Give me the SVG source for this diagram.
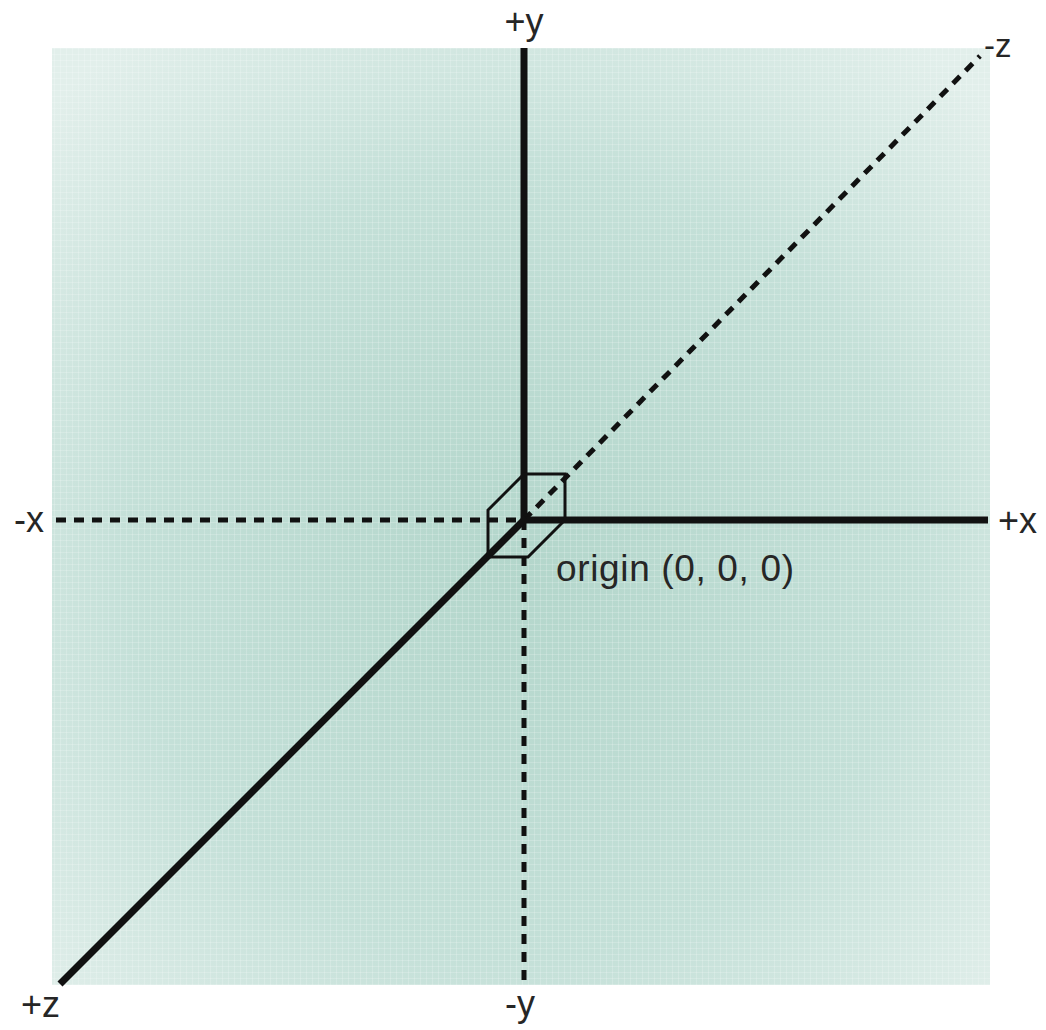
<svg xmlns="http://www.w3.org/2000/svg" width="1046" height="1030" viewBox="0 0 1046 1030">
  <defs>
    <radialGradient id="bg" cx="50%" cy="55%" r="70%">
      <stop offset="0" stop-color="#b3d6cb"/>
      <stop offset="0.6" stop-color="#c4e0d8"/>
      <stop offset="1" stop-color="#e2efeb"/>
    </radialGradient>
    <pattern id="grid" width="6" height="6" patternUnits="userSpaceOnUse">
      <path d="M0 0.5H6M0.5 0V6" stroke="#ffffff" stroke-opacity="0.18" stroke-width="1"/>
    </pattern>
    <style>
      .solid { stroke: #111; stroke-width: 7; fill: none; }
      .dash { stroke: #111; stroke-width: 5; fill: none; stroke-dasharray: 10 8; }
      .thin { stroke: #111; stroke-width: 3; fill: none; stroke-linejoin: miter; }
      .lbl { font-family: "Liberation Sans", Arial, sans-serif; font-size: 36px; fill: #262626; }
    </style>
  </defs>
  <rect width="1046" height="1030" fill="#ffffff"/>
  <g id="background">
    <rect x="52" y="48" width="938" height="937" fill="url(#bg)"/>
    <rect x="52" y="48" width="938" height="937" fill="url(#grid)"/>
  </g>
  <g id="connectors">
    <line id="axis-neg-x" class="dash" x1="56" y1="520" x2="524" y2="520"/>
    <line id="axis-neg-y" class="dash" x1="524" y1="520" x2="524" y2="985"/>
    <line id="axis-neg-z" class="dash" x1="524" y1="520" x2="980" y2="56"/>
    <line id="axis-pos-y" class="solid" x1="524" y1="48" x2="524" y2="523"/>
    <line id="axis-pos-x" class="solid" x1="521" y1="520" x2="988" y2="520"/>
    <line id="axis-pos-z" class="solid" x1="526" y1="518" x2="60" y2="984"/>
  </g>
  <g id="origin-cube">
    <polygon class="thin" points="524,474 565,474 565,520 528,557 488,557 488,510"/>
  </g>
  <g id="labels">
    <text class="lbl" x="524" y="34" text-anchor="middle">+y</text>
    <text class="lbl" x="984" y="57" style="font-size:33px">-z</text>
    <text class="lbl" x="998" y="533">+x</text>
    <text class="lbl" x="14" y="532">-x</text>
    <text class="lbl" x="21" y="1017">+z</text>
    <text class="lbl" x="520" y="1016" text-anchor="middle">-y</text>
    <text class="lbl" x="556" y="581" style="font-size:37px" textLength="238">origin (0, 0, 0)</text>
  </g>
</svg>
